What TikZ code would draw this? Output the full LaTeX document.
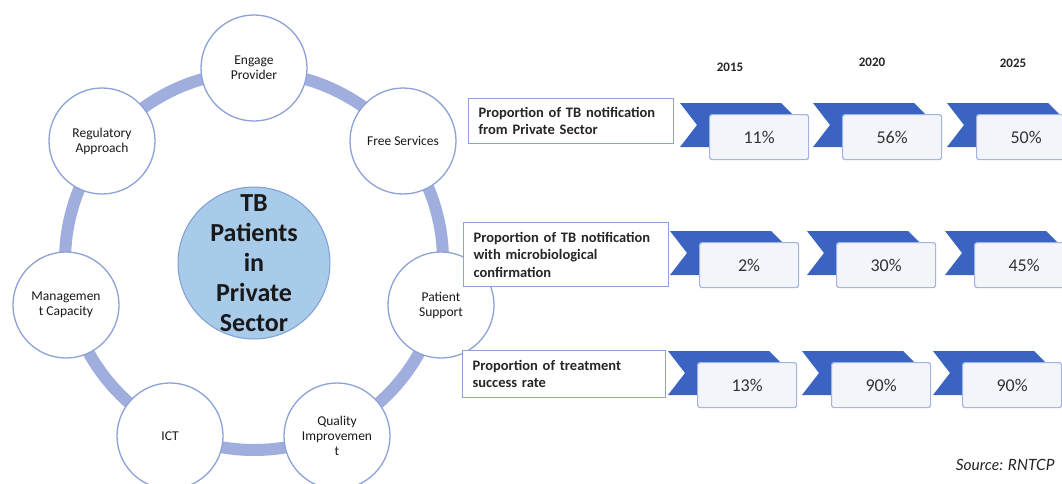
\documentclass[tikz,border=0pt]{standalone}
\usepackage{fontspec}
\setmainfont{Carlito}
\newfontfamily\srcfont{Lato}
\definecolor{ringc}{HTML}{9FAEDC}
\definecolor{circb}{HTML}{8DA2D8}
\definecolor{centf}{HTML}{A8CBEA}
\definecolor{centb}{HTML}{7E9ED3}
\definecolor{chevc}{HTML}{3B63C2}
\definecolor{boxb}{HTML}{A3B4E2}
\definecolor{boxf}{HTML}{F3F5FA}
\definecolor{lblb}{HTML}{8FA2D8}
\newcommand\chevval[4]{%
  \begin{scope}[shift={(#1,#2)}]
    \fill[chevc] (0,0) -- (101,0) -- (123,22) -- (101,44) -- (0,44) -- (17,22) -- cycle;
    \node[valbox] (#3) at (29,11) {#4};
  \end{scope}}
\begin{document}
\begin{tikzpicture}[x=1pt,y=-1pt,
  smallc/.style={circle,draw=circb,line width=1.3pt,fill=white,minimum size=106pt,inner sep=0pt,align=center,font=\fontsize{13.5}{15}\selectfont,text=black!90},
  centc/.style={circle,draw=centb,line width=1pt,fill=centf,minimum size=152pt,inner sep=0pt},
  centt/.style={align=center,font=\fontsize{26}{30}\selectfont\bfseries,text=black!90},
  lbl/.style={rectangle,draw=lblb,line width=1.2pt,fill=white,anchor=north west,align=left,inner xsep=10pt,inner ysep=0pt,font=\fontsize{14.5}{17.5}\selectfont\bfseries,text=black!85},
  valbox/.style={rectangle,rounded corners=2.5pt,draw=boxb,line width=1.2pt,fill=boxf,anchor=north west,minimum width=99pt,minimum height=45pt,inner sep=0pt,font=\fontsize{18}{20}\selectfont,text=black!80},
  yr/.style={font=\fontsize{13}{15}\selectfont\bfseries,text=black!85}]
\useasboundingbox (0,0) rectangle (1062,483);
\clip (0,0) rectangle (1062,483);
% ring
\coordinate (hub) at (254,261);
\draw[ringc,line width=12pt] (hub) circle[radius=189];
% circles
\node[smallc] (engage) at (254,68) {Engage\\Provider};
\node[smallc] (free) at (403,141) {Free Services};
\node[smallc] (patient) at (441,305) {Patient\\Support};
\node[smallc] (quality) at (337,436) {Quality\\Improvemen\\t};
\node[smallc] (ict) at (170,436) {ICT};
\node[smallc] (mgmt) at (66,305) {Managemen\\t Capacity};
\node[smallc] (reg) at (102,141) {Regulatory\\Approach};
\node[centc] (tb) at (254,263) {};
\node[centt] (tbtext) at (tb.center) {TB\\Patients\\in\\Private\\Sector};
% years
\node[yr] (y2015) at (730,67) {2015};
\node[yr] (y2020) at (872,62) {2020};
\node[yr] (y2025) at (1013,63) {2025};
% labels
\node[lbl,text width=185pt,minimum height=45pt] (l1) at (468,98) {Proportion of TB notification\\from Private Sector};
\node[lbl,text width=185pt,minimum height=64pt] (l2) at (463,222) {Proportion of TB notification\\with microbiological\\confirmation};
\node[lbl,text width=183pt,minimum height=47pt] (l3) at (462,350) {Proportion of treatment\\success rate};
% values
\chevval{680}{103}{v11}{11\%}
\chevval{813}{103}{v12}{56\%}
\chevval{947}{103}{v13}{50\%}
\chevval{670}{231}{v21}{2\%}
\chevval{807}{231}{v22}{30\%}
\chevval{945}{231}{v23}{45\%}
\chevval{668}{351}{v31}{13\%}
\chevval{802}{351}{v32}{90\%}
\chevval{933}{351}{v33}{90\%}
% source
\node[font=\srcfont\itshape\fontsize{15.5}{18}\selectfont,anchor=east,text=black!85] (src) at (1058,465) {Source: RNTCP};
\end{tikzpicture}
\end{document}
